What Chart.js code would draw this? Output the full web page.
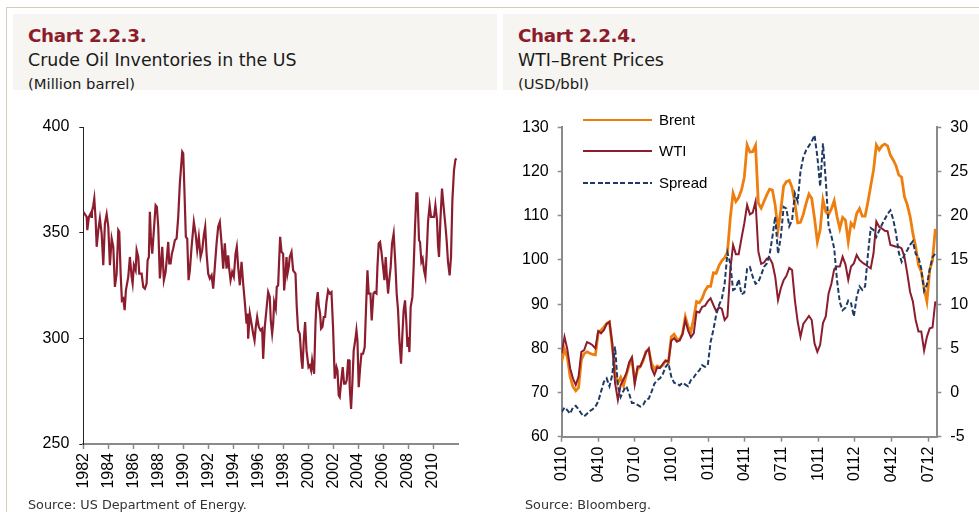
<!DOCTYPE html>
<html>
<head>
<meta charset="utf-8">
<script src="https://cdn.jsdelivr.net/npm/chart.js@4.4.0/dist/chart.umd.min.js"></script>
<style>
  html, body { margin: 0; padding: 0; background: #fff; }
  body { width: 979px; height: 512px; position: relative; overflow: hidden; font-family: "DejaVu Sans", sans-serif; }
  .frame-top { position: absolute; left: 6px; top: 7px; width: 973px; height: 1px; background: #d9cdb8; }
  .frame-left { position: absolute; left: 6px; top: 7px; width: 1px; height: 505px; background: #d9cdb8; }
  .head { position: absolute; top: 14px; height: 76px; background: #f6f5f1; }
  .head .num { position: absolute; left: 15px; top: 12px; font-size: 18.3px; line-height: 20px; font-weight: 700; color: #8b1c2c; white-space: nowrap; letter-spacing: -0.3px; }
  .head .ttl { position: absolute; left: 15px; top: 37px; font-size: 17.4px; line-height: 18px; color: #1a1a1a; white-space: nowrap; }
  .head .unit { position: absolute; left: 15px; top: 62px; font-size: 14.8px; line-height: 15px; color: #1a1a1a; white-space: nowrap; }
  .source { position: absolute; top: 497px; font-size: 12.8px; line-height: 15px; color: #333; white-space: nowrap; }
  canvas { position: absolute; }
  #legend { position: absolute; left: 583px; top: 110px; font-family: Arial, "Liberation Sans", sans-serif; font-size: 15px; color: #000; }
  #legend .row { position: absolute; left: 0; height: 20px; white-space: nowrap; }
  #legend .line { position: absolute; left: 0; width: 69px; }
  #legend .txt { position: absolute; left: 76px; top: 1px; line-height: 18px; }
</style>
</head>
<body>
<div class="frame-top"></div>
<div class="frame-left"></div>

<div class="head" style="left:13px; width:484px;">
  <div class="num">Chart 2.2.3.</div>
  <div class="ttl">Crude Oil Inventories in the US</div>
  <div class="unit">(Million barrel)</div>
</div>
<div class="head" style="left:503px; width:476px;">
  <div class="num">Chart 2.2.4.</div>
  <div class="ttl">WTI–Brent Prices</div>
  <div class="unit">(USD/bbl)</div>
</div>

<canvas id="invChart" width="490" height="410" style="left:0; top:100px;"></canvas>
<canvas id="priceChart" width="479" height="410" style="left:500px; top:100px;"></canvas>
<div id="legend"></div>

<div class="source" style="left:28px;">Source: US Department of Energy.</div>
<div class="source" style="left:525px;">Source: Bloomberg.</div>

<script>
// Chart 2.2.3 - crude oil inventories (million barrel)
const inventoryYears = [
  1982.00, 1982.27, 1982.32, 1982.45, 1982.59, 1982.64, 1982.69, 1982.80, 1982.88, 1982.99,
  1983.07, 1983.20, 1983.33, 1983.47, 1983.60, 1983.73, 1983.87, 1984.00, 1984.13, 1984.27,
  1984.40, 1984.53, 1984.67, 1984.80, 1984.88, 1984.99, 1985.09, 1985.20, 1985.31, 1985.41,
  1985.60, 1985.73, 1985.87, 1985.95, 1986.05, 1986.19, 1986.27, 1986.40, 1986.48, 1986.67,
  1986.80, 1986.93, 1987.07, 1987.15, 1987.25, 1987.33, 1987.41, 1987.52, 1987.65, 1987.79,
  1987.89, 1988.00, 1988.13, 1988.21, 1988.32, 1988.45, 1988.59, 1988.72, 1988.80, 1988.88,
  1988.99, 1989.09, 1989.20, 1989.33, 1989.47, 1989.60, 1989.73, 1989.92, 1990.00, 1990.08,
  1990.21, 1990.32, 1990.43, 1990.53, 1990.67, 1990.85, 1990.99, 1991.12, 1991.25, 1991.39,
  1991.52, 1991.65, 1991.76, 1991.87, 1992.00, 1992.13, 1992.27, 1992.40, 1992.53, 1992.67,
  1992.80, 1992.93, 1993.07, 1993.20, 1993.33, 1993.47, 1993.60, 1993.68, 1993.79, 1993.92,
  1994.05, 1994.19, 1994.29, 1994.40, 1994.53, 1994.67, 1994.80, 1994.93, 1995.07, 1995.15,
  1995.20, 1995.33, 1995.47, 1995.60, 1995.71, 1995.81, 1995.92, 1996.05, 1996.19, 1996.32,
  1996.40, 1996.53, 1996.67, 1996.80, 1996.93, 1997.01, 1997.12, 1997.20, 1997.28, 1997.41,
  1997.49, 1997.60, 1997.68, 1997.76, 1997.87, 1998.00, 1998.08, 1998.19, 1998.27, 1998.35,
  1998.45, 1998.53, 1998.67, 1998.80, 1998.99, 1999.09, 1999.20, 1999.33, 1999.47, 1999.55,
  1999.65, 1999.76, 1999.87, 2000.03, 2000.13, 2000.24, 2000.32, 2000.40, 2000.48, 2000.59,
  2000.67, 2000.77, 2000.85, 2000.96, 2001.04, 2001.15, 2001.25, 2001.36, 2001.47, 2001.60,
  2001.73, 2001.87, 2002.00, 2002.13, 2002.27, 2002.35, 2002.45, 2002.53, 2002.67, 2002.77,
  2002.88, 2002.99, 2003.09, 2003.20, 2003.28, 2003.33, 2003.44, 2003.55, 2003.65, 2003.79,
  2003.87, 2003.95, 2004.05, 2004.16, 2004.27, 2004.40, 2004.53, 2004.64, 2004.75, 2004.85,
  2004.99, 2005.09, 2005.23, 2005.33, 2005.47, 2005.55, 2005.65, 2005.76, 2005.87, 2006.00,
  2006.11, 2006.21, 2006.29, 2006.40, 2006.51, 2006.61, 2006.72, 2006.85, 2006.99, 2007.09,
  2007.20, 2007.31, 2007.44, 2007.55, 2007.65, 2007.76, 2007.87, 2007.95, 2008.03, 2008.11,
  2008.21, 2008.35, 2008.45, 2008.56, 2008.67, 2008.75, 2008.88, 2008.96, 2009.07, 2009.17,
  2009.28, 2009.39, 2009.49, 2009.60, 2009.73, 2009.84, 2009.95, 2010.08, 2010.19, 2010.32,
  2010.40, 2010.48, 2010.59, 2010.72, 2010.85, 2010.99, 2011.09, 2011.20, 2011.33, 2011.44,
  2011.55, 2011.68, 2011.79, 2011.87
];
const inventoryValues = [
  359.9, 357.5, 351.2, 357.5, 359.1, 357.5, 359.9, 363.0, 366.2, 355.9,
  343.3, 351.2, 356.7, 349.6, 334.6, 354.3, 358.8, 352.8, 334.6, 347.2,
  343.3, 324.3, 330.6, 351.2, 350.4, 330.6, 318.0, 318.8, 313.3, 322.7,
  329.1, 338.5, 329.1, 325.9, 334.6, 332.2, 341.7, 338.5, 330.6, 330.6,
  324.3, 323.5, 325.9, 337.0, 338.5, 359.9, 348.0, 340.1, 351.2, 363.0,
  362.2, 352.8, 328.3, 333.8, 343.3, 327.5, 331.4, 340.1, 345.6, 335.4,
  335.4, 340.1, 342.5, 346.4, 347.2, 357.5, 373.3, 388.3, 387.5, 373.3,
  348.0, 347.2, 327.5, 332.2, 343.3, 355.1, 349.6, 341.7, 348.0, 338.5,
  341.7, 348.8, 352.8, 340.1, 330.6, 328.3, 329.8, 323.5, 333.8, 344.9,
  352.8, 355.1, 344.9, 333.0, 344.9, 333.0, 339.3, 333.0, 327.5, 331.4,
  329.1, 340.1, 343.3, 333.8, 325.1, 336.2, 325.9, 317.2, 306.9, 311.7,
  299.8, 311.7, 306.9, 302.2, 299.0, 305.4, 310.1, 305.4, 303.8, 304.6,
  290.3, 305.4, 314.0, 321.9, 319.6, 308.5, 302.2, 306.9, 317.2, 314.0,
  324.3, 325.1, 337.0, 348.0, 340.9, 340.1, 322.7, 330.6, 338.5, 330.6,
  333.8, 338.5, 340.9, 332.2, 330.6, 314.8, 303.8, 302.2, 289.6, 285.6,
  299.0, 307.7, 294.3, 286.4, 287.2, 284.8, 289.6, 286.4, 283.2, 306.9,
  317.2, 321.9, 315.6, 311.7, 304.6, 305.4, 310.1, 310.1, 317.2, 322.7,
  321.2, 321.9, 304.6, 280.9, 286.4, 284.8, 273.0, 272.2, 280.9, 286.4,
  278.5, 278.5, 280.1, 289.6, 289.6, 276.9, 266.6, 280.1, 294.3, 299.8,
  303.8, 299.0, 276.9, 285.6, 292.7, 292.7, 295.9, 314.8, 332.2, 321.2,
  321.2, 308.5, 321.2, 321.9, 321.2, 333.8, 344.9, 345.6, 340.9, 333.8,
  327.5, 338.5, 330.6, 321.2, 328.3, 333.8, 344.9, 349.6, 334.6, 321.2,
  313.3, 299.0, 288.0, 302.2, 313.3, 318.0, 306.9, 295.9, 300.6, 293.5,
  314.8, 319.6, 333.8, 352.8, 368.6, 368.6, 346.4, 345.6, 336.2, 337.7,
  332.2, 329.1, 339.3, 355.1, 363.0, 357.5, 357.5, 357.5, 363.0, 355.9,
  344.1, 338.5, 355.9, 370.9, 362.2, 353.5, 346.4, 336.2, 329.8, 338.5,
  365.4, 379.6, 384.4, 385.1
];
const inventoryYearTicks = [1982, 1984, 1986, 1988, 1990, 1992, 1994, 1996, 1998, 2000, 2002, 2004, 2006, 2008, 2010];

// Chart 2.2.4 - weekly prices from the first week of Jan 2010 (USD/bbl)
const priceTickLabels = ["0110", "0410", "0710", "1010", "0111", "0411", "0711", "1011", "0112", "0412", "0712"];
const brentPrices = [
  77.0, 79.8, 78.0, 73.6, 71.3, 70.4, 71.1, 77.4, 78.8, 79.2,
  78.9, 78.6, 78.5, 83.6, 84.1, 84.8, 85.6, 86.0, 80.4, 74.7,
  72.1, 73.4, 71.5, 74.0, 76.2, 77.4, 72.5, 75.2, 75.9, 77.2,
  79.3, 79.6, 76.5, 75.3, 76.0, 75.7, 76.2, 77.2, 76.8, 82.6,
  83.2, 82.1, 81.9, 83.3, 87.1, 84.9, 83.8, 86.8, 90.6, 90.3,
  91.3, 93.0, 94.0, 94.0, 97.1, 97.0, 98.7, 99.8, 100.5, 101.7,
  109.4, 115.1, 113.2, 114.1, 115.8, 118.7, 126.0, 124.4, 124.5, 125.9,
  112.8, 111.7, 113.2, 114.7, 116.0, 115.8, 112.4, 106.8, 111.3, 116.7,
  117.7, 118.0, 116.4, 112.8, 108.4, 108.5, 110.3, 112.8, 114.9, 113.9,
  109.4, 104.1, 106.8, 113.6, 110.9, 110.2, 111.6, 113.4, 109.8, 107.1,
  109.6, 109.0, 104.1, 108.3, 107.5, 110.5, 111.6, 109.9, 109.9, 113.1,
  116.7, 120.3, 126.0, 124.9, 125.8, 126.2, 125.8, 123.7, 122.6, 121.3,
  119.2, 118.7, 114.3, 112.5, 109.9, 106.0, 103.0, 98.9, 97.3, 93.6,
  90.6, 97.7, 100.0, 107.0
];
const wtiPrices = [
  78.9, 82.6, 79.8, 75.5, 73.2, 71.7, 73.6, 79.2, 79.6, 81.4,
  81.1, 80.7, 80.0, 83.9, 83.4, 84.1, 85.5, 86.0, 81.1, 72.1,
  68.3, 71.7, 73.0, 74.3, 76.8, 78.0, 71.9, 75.9, 75.9, 77.5,
  79.1, 80.0, 75.5, 74.0, 75.7, 75.5, 76.5, 77.2, 77.0, 81.7,
  82.3, 81.5, 81.8, 83.2, 86.4, 84.0, 82.5, 83.4, 88.3, 88.1,
  89.4, 89.6, 90.6, 91.3, 89.8, 88.4, 89.3, 88.9, 86.4, 87.2,
  97.7, 103.4, 101.3, 101.3, 104.9, 108.3, 112.4, 110.3, 110.7, 113.2,
  101.9, 99.1, 99.4, 100.3, 100.4, 99.2, 96.2, 90.9, 93.6, 95.4,
  96.4, 98.2, 97.7, 90.9, 86.0, 82.6, 85.5, 86.4, 87.3, 86.4,
  81.1, 79.2, 80.8, 85.7, 87.2, 92.4, 94.6, 97.9, 98.5, 98.5,
  100.7, 99.0, 95.5, 98.5, 99.2, 101.1, 100.0, 99.4, 99.0, 98.5,
  98.1, 101.5, 108.7, 107.5, 107.1, 106.6, 106.5, 103.4, 103.2, 103.0,
  103.0, 102.6, 100.7, 97.0, 92.8, 90.6, 86.4, 83.8, 83.8, 79.5,
  82.6, 84.5, 84.7, 90.6
];
const spreadValues = [
  -2.2, -1.7, -2.0, -2.4, -1.7, -1.5, -1.9, -2.4, -2.7, -2.4,
  -2.1, -1.9, -1.6, -1.0, 0.1, 1.2, 1.6, 0.7, 2.0, 5.2,
  0.7, -0.5, 0.2, 0.7, -0.1, -1.2, -1.2, -1.4, -1.6, -1.4,
  -0.8, -0.7, 0.1, 1.0, 1.4, 1.6, 2.1, 2.9, 3.3, 1.8,
  1.1, 1.0, 0.8, 1.1, 0.9, 0.7, 1.4, 1.7, 2.2, 2.5,
  3.1, 2.9, 3.1, 5.7, 7.1, 8.8, 9.9, 10.6, 12.3, 15.8,
  14.6, 11.6, 11.8, 12.8, 11.1, 11.3, 14.0, 14.2, 13.1, 12.3,
  12.5, 13.3, 14.2, 14.6, 15.6, 17.6, 19.9, 15.7, 17.6, 21.0,
  20.8, 18.8, 19.5, 22.5, 21.6, 25.0, 26.6, 27.4, 27.9, 28.4,
  29.1, 26.7, 23.3, 28.2, 24.0, 18.8, 17.7, 16.3, 12.7, 10.2,
  9.3, 9.6, 10.4, 10.1, 8.6, 10.8, 12.0, 11.6, 12.0, 15.6,
  18.6, 18.4, 17.6, 18.3, 19.0, 19.6, 20.2, 20.6, 19.6, 18.0,
  15.8, 14.8, 15.6, 16.1, 16.7, 17.1, 15.7, 15.3, 14.0, 11.5,
  12.2, 13.9, 15.3, 15.7
];

const WEEKS_PER_QUARTER = 52.18 / 4;
const RED = "#8c1d2f";
const ORANGE = "#ee7f0e";
const NAVY = "#1f3b63";
const AXIS_GREY = "#8a8a8a";
const tickFont = { family: "Arial, 'Liberation Sans', sans-serif", size: 16 };

// ---- left chart: inventories ----
new Chart(document.getElementById("invChart"), {
  type: "line",
  data: {
    datasets: [{
      data: inventoryYears.map((x, i) => ({ x: x, y: inventoryValues[i] })),
      borderColor: RED,
      borderWidth: 2.2,
      pointRadius: 0,
      tension: 0
    }]
  },
  options: {
    responsive: false,
    animation: false,
    layout: { padding: { top: 27, right: 32, left: 0, bottom: 0 } },
    plugins: { legend: { display: false }, tooltip: { enabled: false } },
    scales: {
      x: {
        type: "linear",
        min: 1982,
        max: 2012,
        afterBuildTicks: axis => { axis.ticks = inventoryYearTicks.map(v => ({ value: v })); },
        afterFit: axis => { axis.height = 66; },
        ticks: { autoSkip: false, minRotation: 90, maxRotation: 90, padding: 4, color: "#000", font: tickFont, callback: v => String(v) },
        grid: { drawOnChartArea: false, tickLength: 5, tickColor: AXIS_GREY, tickWidth: 1.5 },
        border: { color: AXIS_GREY, width: 2 }
      },
      y: {
        min: 250,
        max: 400,
        afterFit: axis => { axis.width = 83.3; },
        ticks: { stepSize: 50, padding: 10, color: "#000", font: tickFont },
        grid: { drawOnChartArea: false, tickLength: 4, tickColor: "#222", tickWidth: 1 },
        border: { color: "#222", width: 1 }
      }
    }
  }
});

// ---- right chart: WTI / Brent ----
const priceSeries = [
  { label: "Brent", values: brentPrices, axis: "y", color: ORANGE, width: 2.8, dash: [], order: 3 },
  { label: "WTI", values: wtiPrices, axis: "y", color: RED, width: 2, dash: [], order: 2 },
  { label: "Spread", values: spreadValues, axis: "y1", color: NAVY, width: 2, dash: [5, 2.5], order: 1 }
];

new Chart(document.getElementById("priceChart"), {
  type: "line",
  data: {
    datasets: priceSeries.map(s => ({
      label: s.label,
      data: s.values.map((v, i) => ({ x: i, y: v })),
      yAxisID: s.axis,
      borderColor: s.color,
      borderWidth: s.width,
      borderDash: s.dash,
      pointRadius: 0,
      tension: 0,
      order: s.order
    }))
  },
  options: {
    responsive: false,
    animation: false,
    layout: { padding: { top: 27.3, right: 0, left: 0, bottom: 0 } },
    plugins: { legend: { display: false }, tooltip: { enabled: false } },
    scales: {
      x: {
        type: "linear",
        min: 0,
        max: 133.7,
        afterBuildTicks: axis => { axis.ticks = priceTickLabels.map((_, i) => ({ value: i * WEEKS_PER_QUARTER })); },
        afterFit: axis => { axis.height = 73.3; },
        ticks: { autoSkip: false, minRotation: 90, maxRotation: 90, padding: 5, color: "#000", font: tickFont, callback: (v, i) => priceTickLabels[i] },
        grid: { drawOnChartArea: false, tickLength: 5, tickColor: AXIS_GREY, tickWidth: 1.5 },
        border: { color: AXIS_GREY, width: 2 }
      },
      y: {
        position: "left",
        min: 60,
        max: 130,
        afterFit: axis => { axis.width = 61.7; },
        ticks: { stepSize: 10, padding: 9, color: "#000", font: tickFont },
        grid: { drawOnChartArea: false, tickLength: 4, tickColor: AXIS_GREY, tickWidth: 1.5 },
        border: { color: AXIS_GREY, width: 2 }
      },
      y1: {
        position: "right",
        min: -5,
        max: 30,
        afterFit: axis => { axis.width = 41.7; },
        ticks: { stepSize: 5, padding: 9, color: "#000", font: tickFont },
        grid: { drawOnChartArea: false, tickLength: 4, tickColor: AXIS_GREY, tickWidth: 1.5 },
        border: { color: AXIS_GREY, width: 2 }
      }
    }
  }
});

// legend for the right chart, built from the series styles
const legend = document.getElementById("legend");
priceSeries.forEach((s, i) => {
  const row = document.createElement("div");
  row.className = "row";
  row.style.top = (i * 31.3) + "px";
  const line = document.createElement("div");
  line.className = "line";
  line.style.top = (10 - s.width / 2) + "px";
  line.style.height = s.width + "px";
  if (s.dash.length) {
    line.style.background = "repeating-linear-gradient(to right, " + s.color + " 0 " + s.dash[0] + "px, transparent " + s.dash[0] + "px " + (s.dash[0] + s.dash[1]) + "px)";
  } else {
    line.style.background = s.color;
  }
  const txt = document.createElement("div");
  txt.className = "txt";
  txt.textContent = s.label;
  row.appendChild(line);
  row.appendChild(txt);
  legend.appendChild(row);
});
</script>
</body>
</html>
